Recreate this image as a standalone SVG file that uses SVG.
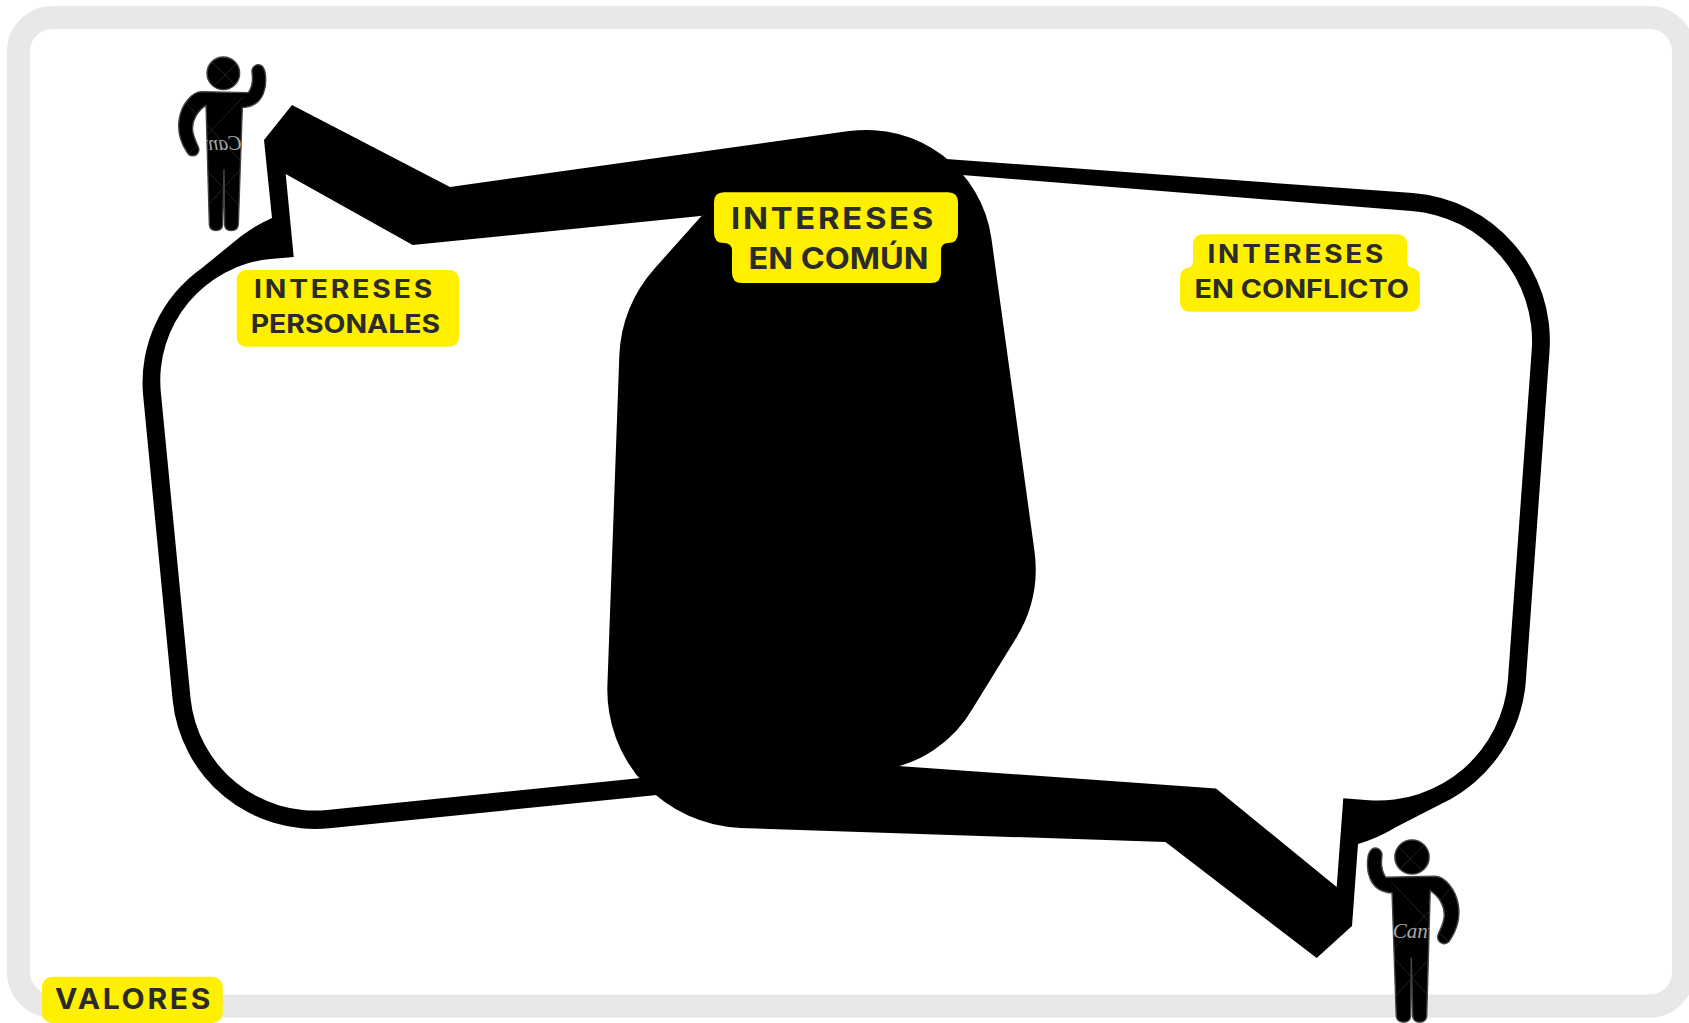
<svg xmlns="http://www.w3.org/2000/svg" xmlns:xlink="http://www.w3.org/1999/xlink" width="1689" height="1023" viewBox="0 0 1689 1023">
<style>
.blk{fill:#000}
.wht{fill:#fff}
.tag{fill:#fff000}
.t{font-family:"Inter","Liberation Sans",sans-serif;font-weight:700;fill:#2b2b2b}
.s{font-size:25px}
.b{font-size:30px}
.v{font-size:28px}
.ls{letter-spacing:2.500px}
.wm{font-family:"Liberation Serif",serif;font-style:italic;font-size:60px;fill:#a8a8a8}
.cross{stroke:#333;stroke-width:2;fill:none}
</style>
<defs>
<path id="figure" d="M215,185 L355,188 C364,175 370,155 366,128 C362,105 395,90 405,125 C412,165 405,225 345,232 L337,232 L325,585 Q322,602 305,602 Q285,602 284,585 L282,418 L278,585 Q276,602 258,602 Q240,602 238,585 L228,226 C205,240 185,270 188,300 C190,325 205,345 207,358 C205,380 180,385 170,365 C150,335 142,300 148,265 C155,225 185,185 215,185 Z"/>
<clipPath id="bodyclip"><use xlink:href="#figure"/><circle cx="280" cy="130" r="50"/></clipPath>
<clipPath id="wmclip"><rect x="230" y="290" width="105" height="100"/></clipPath>
<g id="person">
<circle cx="280" cy="130" r="49" fill="#000" stroke="#444" stroke-width="4"/>
<use xlink:href="#figure" fill="#000" stroke="#444" stroke-width="4"/>
<g clip-path="url(#bodyclip)"><path class="cross" d="M240,90 L330,180 M330,90 L240,180 M150,200 L340,400 M340,200 L150,400 M230,420 L330,530 M330,420 L230,530"/></g>
</g>
</defs>
<rect id="frame" x="18.500" y="17.500" width="1665" height="988.500" rx="34" ry="34" fill="#fff" stroke="#e8e8e8" stroke-width="23"/>
<g id="bubble-left">
<path class="blk" d="M292,105 L450,187 L849,131 L900,790 L760,785 L657,795 L329.200,828.200 A143,143 0 0 1 172.600,699.800 L143,394 A140,140 0 0 1 202,268 L240,237 Q254,226 272,218 L264,140 Z"/>
<path class="wht" d="M285.700,174 L412.700,245 L720,214 L720,770 L641,778 L327,810 A125,125 0 0 1 190.500,698 L160.800,391.700 A122,122 0 0 1 270.500,259 L293.700,257 Z"/>
</g>
<g id="bubble-right">
<path class="blk" d="M850,152 L1412.700,193.100 A148,148 0 0 1 1549.500,351.300 L1525.800,681.600 A148,148 0 0 1 1443,803 L1396.700,826.700 Q1378,838 1358,844 L1352,926 L1316.700,958 L1165.500,842 L740,828 Z"/>
<path class="wht" d="M900,170 L1411.400,211.100 A130,130 0 0 1 1531.700,350.300 L1507.900,680.300 A130,130 0 0 1 1369,800.200 L1343.300,798.300 L1336.700,887 L1216,788.500 L870,764 Z"/>
</g>
<g id="center">
<path class="blk" d="M701,216.500 L849.400,131.100 A126,126 0 0 1 991.400,238.300 L1034.400,550.400 A133,133 0 0 1 1015.700,638.800 L973,708 A125,125 0 0 1 880,770 L740.500,827.900 A138,138 0 0 1 607.400,685.400 L619.300,356 A138,138 0 0 1 654.400,268.700 Z"/>
</g>
<g id="person-1" transform="translate(130,30) scale(.33333)">
<use xlink:href="#person"/>
<g clip-path="url(#wmclip)"><text class="wm" transform="translate(335,360) scale(-1,1)">Canv</text></g>
</g>
<g id="person-2" transform="translate(1510,811.500) scale(-.35,.35)">
<use xlink:href="#person"/>
<g clip-path="url(#wmclip)"><text class="wm" transform="translate(335,360) scale(-1,1)">Canv</text></g>
</g>
<g id="label-personales">
<rect class="tag" x="236.700" y="270" width="222.300" height="76.700" rx="9"/>
<text class="t s ls" x="254" y="298" textLength="181" lengthAdjust="spacingAndGlyphs">INTERESES</text>
<text class="t s" x="250.700" y="332.700" textLength="189.500" lengthAdjust="spacingAndGlyphs">PERSONALES</text>
</g>
<g id="label-comun">
<path class="tag" d="M724,192.300 H948 Q958,192.300 958,202.300 V233 Q958,243 948,243 Q941,243 941,251 V273 Q941,283 931,283 H742 Q732,283 732,273 V251 Q732,243 724,243 Q714,243 714,233 V202.300 Q714,192.300 724,192.300 Z"/>
<text class="t b ls" x="731" y="229" textLength="205" lengthAdjust="spacingAndGlyphs">INTERESES</text>
<text class="t b" x="748.500" y="269" textLength="180" lengthAdjust="spacingAndGlyphs">EN COMÚN</text>
</g>
<g id="label-conflicto">
<path class="tag" d="M1203,234.300 H1397 Q1407,234.300 1407,244.300 V260 Q1407,268 1413,268 Q1420,270 1420,278 V301.700 Q1420,311.700 1410,311.700 H1190 Q1180,311.700 1180,301.700 V278 Q1180,270 1187,268 Q1193,268 1193,260 V244.300 Q1193,234.300 1203,234.300 Z"/>
<text class="t s ls" x="1207.500" y="263.300" textLength="178.500" lengthAdjust="spacingAndGlyphs">INTERESES</text>
<text class="t s" x="1194.500" y="298" textLength="214.500" lengthAdjust="spacingAndGlyphs">EN CONFLICTO</text>
</g>
<g id="label-valores">
<rect class="tag" x="42" y="976.700" width="180.700" height="46.300" rx="10"/>
<text class="t v ls" x="55" y="1009" textLength="158" lengthAdjust="spacingAndGlyphs">VALORES</text>
</g>
</svg>
